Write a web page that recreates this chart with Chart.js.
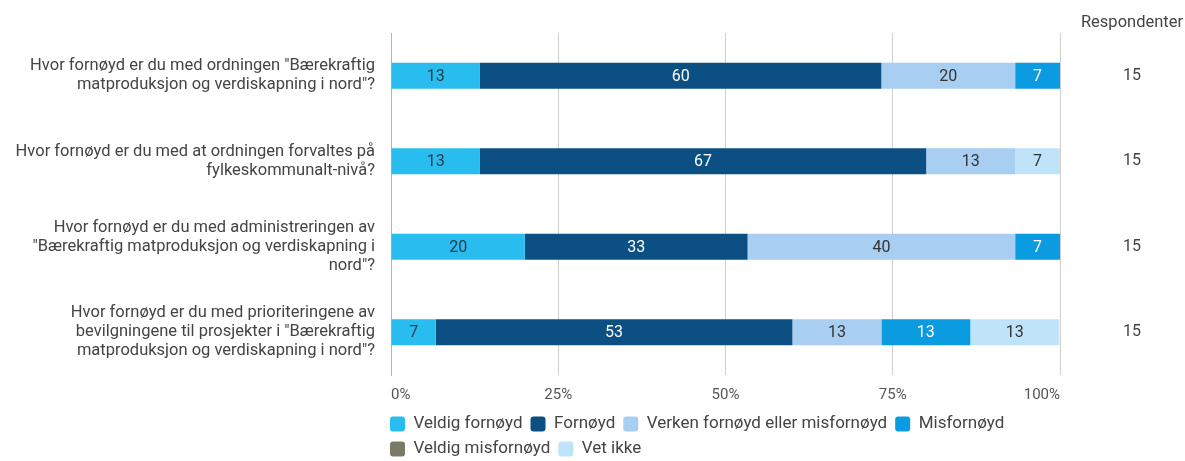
<!DOCTYPE html>
<html>
<head>
<meta charset="utf-8">
<script src="https://cdn.jsdelivr.net/npm/chart.js@4/dist/chart.umd.min.js"></script>
<style>
  html, body { margin: 0; padding: 0; background: #fff; }
</style>
</head>
<body>
<canvas id="chart" width="1185" height="461"></canvas>
<script>
const questions = [
  ['Hvor fornøyd er du med ordningen "Bærekraftig', 'matproduksjon og verdiskapning i nord"?'],
  ['Hvor fornøyd er du med at ordningen forvaltes på', 'fylkeskommunalt-nivå?'],
  ['Hvor fornøyd er du med administreringen av', '"Bærekraftig matproduksjon og verdiskapning i', 'nord"?'],
  ['Hvor fornøyd er du med prioriteringene av', 'bevilgningene til prosjekter i "Bærekraftig', 'matproduksjon og verdiskapning i nord"?']
];
const seriesNames = ['Veldig fornøyd', 'Fornøyd', 'Verken fornøyd eller misfornøyd', 'Misfornøyd', 'Veldig misfornøyd', 'Vet ikke'];

// percent of respondents per answer
const veldigFornoyd = [13.3, 13.3, 20, 6.7];
const fornoyd = [60, 66.7, 33.3, 53.3];
const verken = [20, 13.3, 40, 13.3];
const misfornoyd = [6.7, 0, 6.7, 13.3];
const veldigMisfornoyd = [0, 0, 0, 0];
const vetIkke = [0, 6.7, 0, 13.3];

const respondents = [15, 15, 15, 15];
const xTickStep = 25;

const seriesColors = ['#29bdef', '#0b4f83', '#a8cff2', '#0a9be0', '#7b7b65', '#bfe4fa'];
const labelColors = ['#2b3a48', '#ffffff', '#333333', '#ffffff', '#ffffff', '#333333'];

const seriesValues = [veldigFornoyd, fornoyd, verken, misfornoyd, veldigMisfornoyd, vetIkke];

const FONT = 'Roboto';

const barLabels = {
  id: 'barLabels',
  afterDatasetsDraw(chart) {
    const ctx = chart.ctx;
    ctx.save();
    ctx.font = '16px ' + FONT;
    ctx.textAlign = 'center';
    ctx.textBaseline = 'middle';
    chart.data.datasets.forEach((ds, i) => {
      const meta = chart.getDatasetMeta(i);
      if (meta.hidden) return;
      meta.data.forEach((bar, j) => {
        const v = ds.data[j];
        if (!v) return;
        const p = bar.getCenterPoint();
        ctx.fillStyle = labelColors[i];
        ctx.fillText(Math.round(v), p.x, p.y + 1);
      });
    });
    ctx.restore();
  }
};

const respHeader = {
  id: 'respHeader',
  afterDraw(chart) {
    const ctx = chart.ctx;
    const area = chart.chartArea;
    ctx.save();
    ctx.font = '16.5px ' + FONT;
    ctx.fillStyle = '#444';
    ctx.textAlign = 'center';
    ctx.textBaseline = 'middle';
    ctx.fillText('Respondenter', area.right + 72, 23);
    ctx.restore();
  }
};

// nudge the legend so it starts under the axis line
const legendShift = {
  id: 'legendShift',
  afterLayout(chart) {
    const lg = chart.legend;
    if (!lg) return;
    lg.left -= 9;
    lg.right -= 9;
    lg.top += 6.5;
    lg.bottom += 6.5;
  }
};

const noEdgePadding = scale => {
  scale.paddingTop = 0;
  scale.paddingBottom = 0;
};

new Chart(document.getElementById('chart'), {
  type: 'bar',
  data: {
    labels: questions,
    datasets: seriesNames.map((name, i) => ({
      label: name,
      data: seriesValues[i],
      backgroundColor: seriesColors[i],
      borderWidth: 0,
      categoryPercentage: 1,
      barPercentage: 0.305,
      yAxisID: 'y'
    }))
  },
  options: {
    indexAxis: 'y',
    responsive: false,
    animation: false,
    layout: { padding: { top: 33, bottom: 0, left: 0, right: 0 } },
    scales: {
      x: {
        stacked: true,
        min: 0,
        max: 100,
        ticks: {
          stepSize: xTickStep,
          align: 'inner',
          padding: 11,
          color: '#555',
          font: { family: FONT, size: 15 },
          callback: v => v + '%'
        },
        grid: { color: '#cfcfcf', drawTicks: false },
        border: { display: false },
        afterFit(scale) { scale.height = 26; }
      },
      y: {
        stacked: true,
        position: 'left',
        grid: { display: false, drawTicks: false },
        border: { display: true, color: '#b5b5b5' },
        ticks: {
          padding: 16,
          color: '#444',
          font: { family: FONT, size: 16.5, lineHeight: 1.15 }
        },
        afterFit(scale) {
          scale.width = 391;
          noEdgePadding(scale);
        }
      },
      y2: {
        type: 'category',
        position: 'right',
        offset: true,
        labels: respondents.map(String),
        grid: { display: false, drawTicks: false },
        border: { display: false },
        ticks: {
          padding: 63,
          color: '#444',
          font: { family: FONT, size: 16 }
        },
        afterFit(scale) {
          scale.width = 125;
          noEdgePadding(scale);
        }
      }
    },
    plugins: {
      legend: {
        position: 'bottom',
        align: 'start',
        fullSize: false,
        labels: {
          boxWidth: 15,
          boxHeight: 15,
          useBorderRadius: true,
          borderRadius: 3,
          padding: 8,
          color: '#444',
          font: { family: FONT, size: 17 }
        }
      },
      tooltip: { enabled: false }
    }
  },
  plugins: [barLabels, respHeader, legendShift]
});
</script>
</body>
</html>
